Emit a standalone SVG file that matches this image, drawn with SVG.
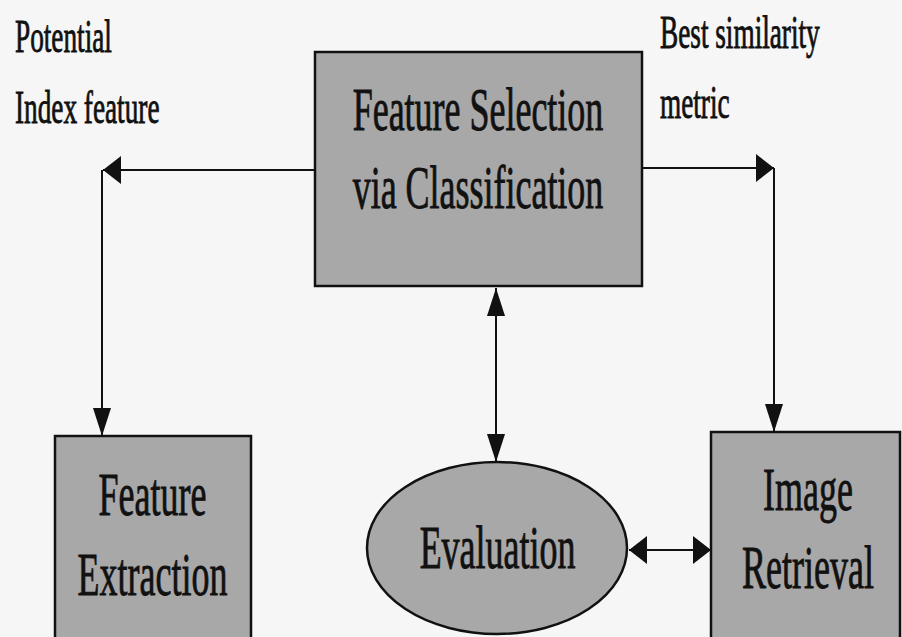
<svg xmlns="http://www.w3.org/2000/svg" width="902" height="637" viewBox="0 0 902 637">
  <style>
    .box { fill: #a8a8a8; stroke: #111; stroke-width: 2.5; }
    .lbl { font-family: "Liberation Serif", "Times New Roman", serif; fill: #111; stroke: #111; stroke-width: 0.9; }
    .big { font-size: 62px; text-anchor: middle; }
    .small { font-size: 47px; }
    .wire { fill: none; stroke: #111; stroke-width: 2; }
  </style>
  <defs>
    <!-- arrowhead for horizontal runs: 18 long, 28 wide -->
    <marker id="arrowH" markerUnits="userSpaceOnUse" markerWidth="18" markerHeight="28" refX="18" refY="14" orient="auto-start-reverse">
      <path d="M0,0 L18,14 L0,28 Z" fill="#111"/>
    </marker>
    <!-- arrowhead for vertical runs: 28 long, 18 wide -->
    <marker id="arrowV" markerUnits="userSpaceOnUse" markerWidth="28" markerHeight="18" refX="28" refY="9" orient="auto-start-reverse">
      <path d="M0,0 L28,9 L0,18 Z" fill="#111"/>
    </marker>
  </defs>

  <rect width="902" height="637" fill="#f6f6f6"/>

  <!-- side labels (condensed serif) -->
  <g id="labels">
    <text class="lbl small" transform="translate(15,52) scale(0.58,1)">Potential</text>
    <text class="lbl small" transform="translate(15,123) scale(0.58,1)">Index feature</text>
    <text class="lbl small" transform="translate(660,48) scale(0.58,1)">Best similarity</text>
    <text class="lbl small" transform="translate(660,118) scale(0.58,1)">metric</text>
  </g>

  <!-- connectors -->
  <g id="connectors">
    <path class="wire" d="M315,170 H103" marker-end="url(#arrowH)"/>
    <path class="wire" d="M102,170 V436" marker-end="url(#arrowV)"/>
    <path class="wire" d="M642,168 H774" marker-end="url(#arrowH)"/>
    <path class="wire" d="M774,168 V432" marker-end="url(#arrowV)"/>
    <path class="wire" d="M496,288 V462" marker-start="url(#arrowV)" marker-end="url(#arrowV)"/>
    <path class="wire" d="M629,550 H711" marker-start="url(#arrowH)" marker-end="url(#arrowH)"/>
  </g>

  <g id="feature-selection">
    <rect class="box" x="315" y="52" width="327" height="234"/>
    <text class="lbl big" transform="translate(478,130) scale(0.58,1)">Feature Selection</text>
    <text class="lbl big" transform="translate(478,208) scale(0.58,1)">via Classification</text>
  </g>

  <g id="feature-extraction">
    <rect class="box" x="55" y="436" width="196" height="215"/>
    <text class="lbl big" transform="translate(152.5,515) scale(0.58,1)">Feature</text>
    <text class="lbl big" transform="translate(152.5,595) scale(0.58,1)">Extraction</text>
  </g>

  <g id="evaluation">
    <ellipse class="box" cx="497" cy="548" rx="130" ry="86"/>
    <text class="lbl big" transform="translate(497.5,568) scale(0.58,1)">Evaluation</text>
  </g>

  <g id="image-retrieval">
    <rect class="box" x="711" y="432" width="189" height="220"/>
    <text class="lbl big" transform="translate(808,510) scale(0.58,1)">Image</text>
    <text class="lbl big" transform="translate(808,588) scale(0.58,1)">Retrieval</text>
  </g>
</svg>
